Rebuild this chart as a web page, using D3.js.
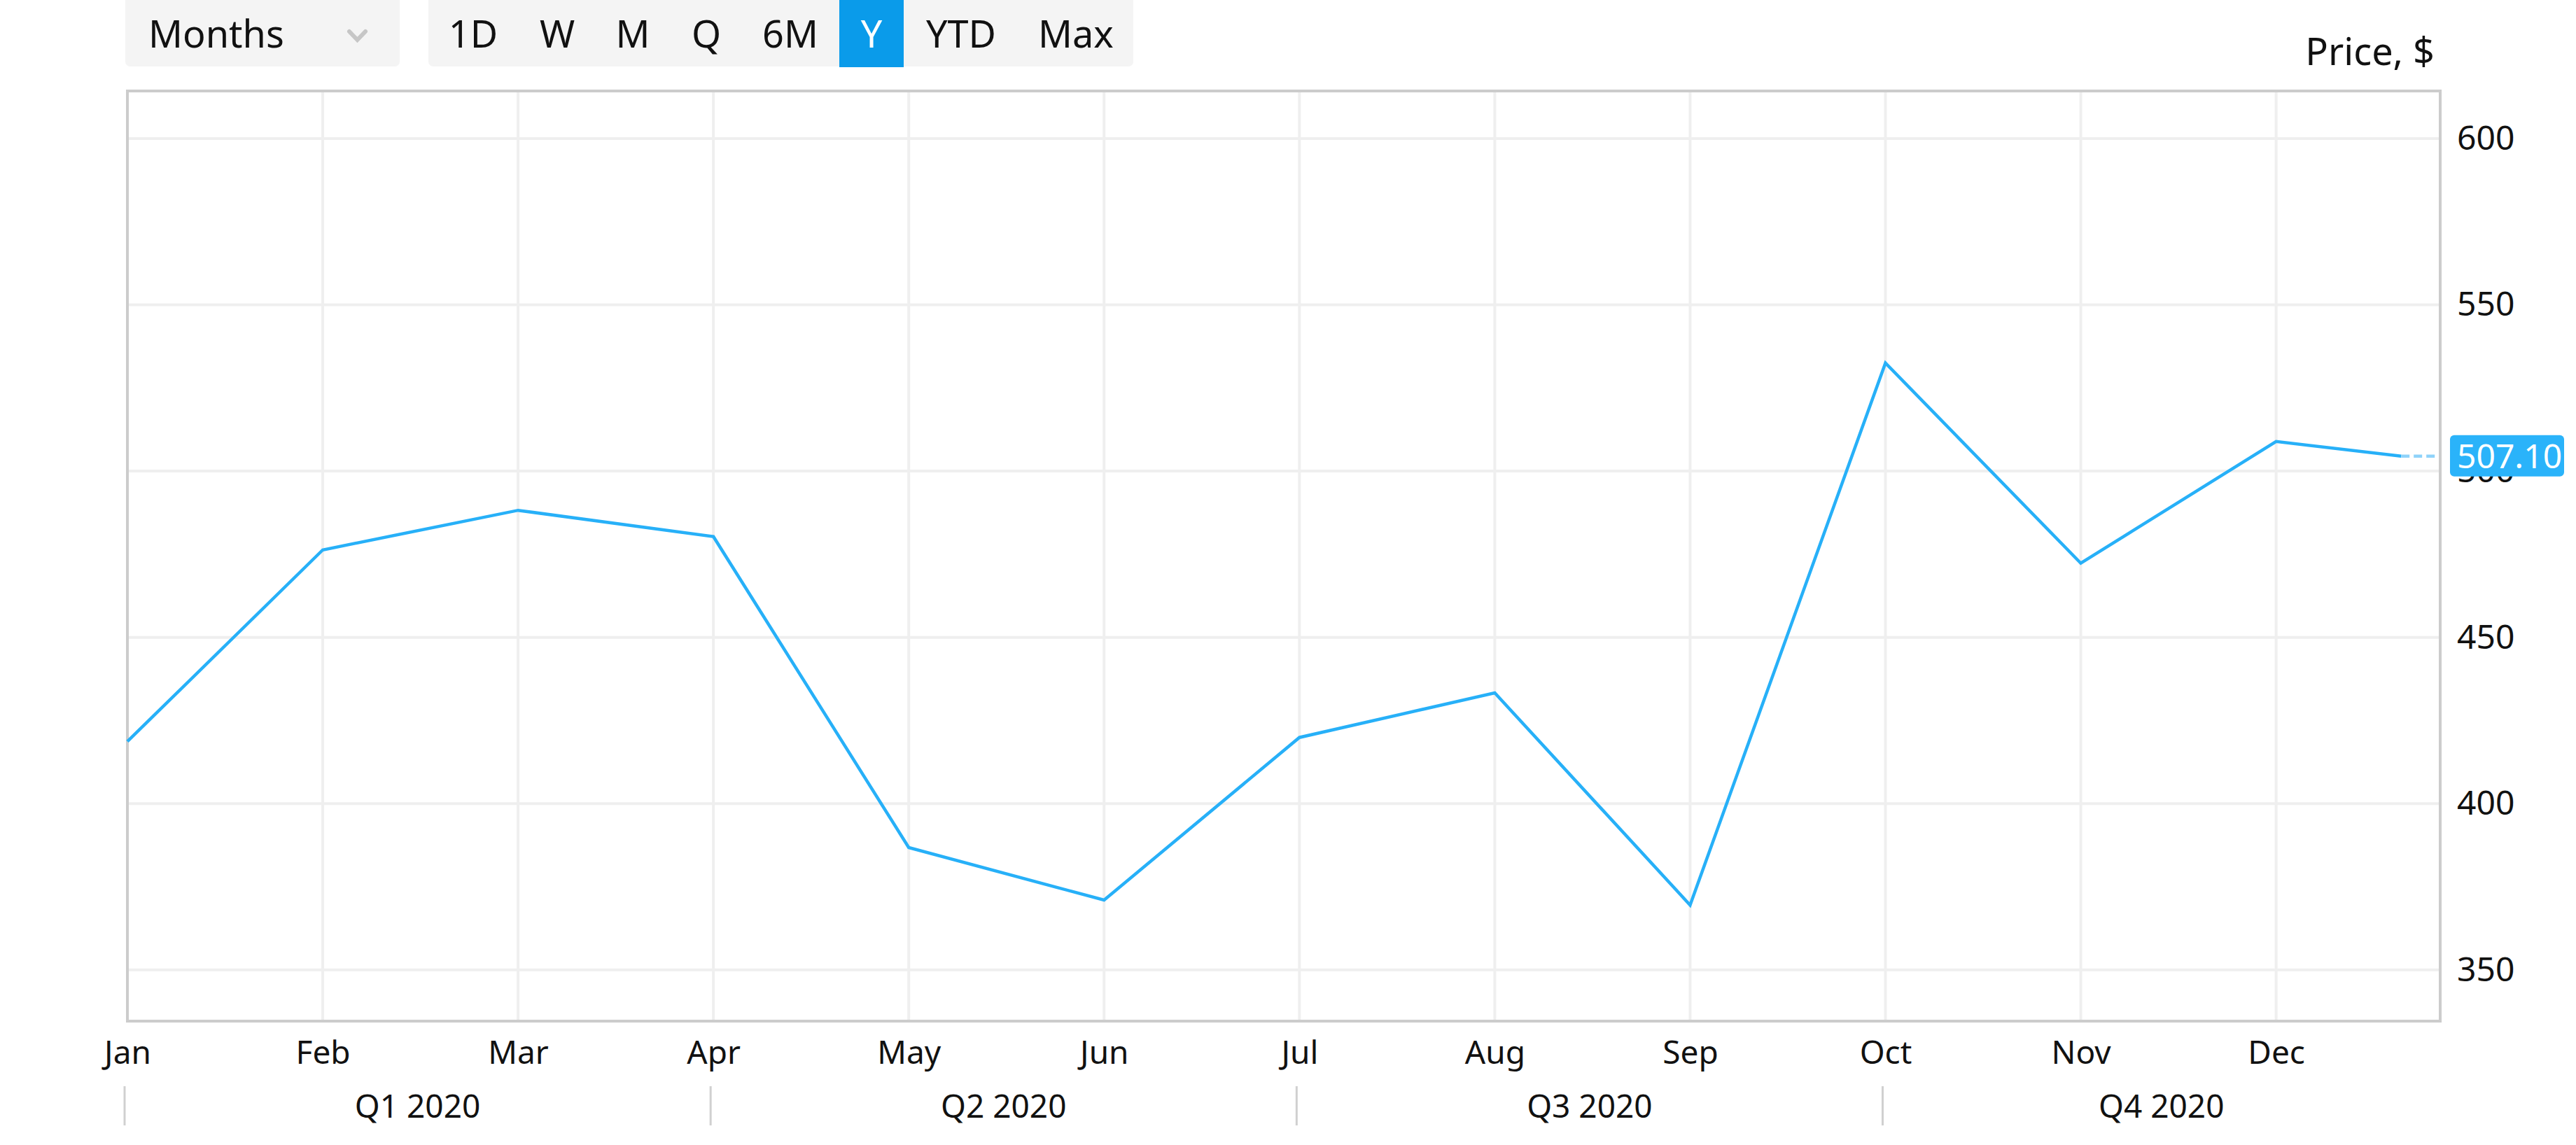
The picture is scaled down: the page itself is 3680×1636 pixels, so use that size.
<!DOCTYPE html>
<html>
<head>
<meta charset="utf-8">
<script src="https://cdn.jsdelivr.net/npm/d3@7"></script>
<style>
  html, body { margin: 0; padding: 0; background: #ffffff; }
  svg { display: block; font-family: "Noto Sans", "Open Sans", sans-serif; }
</style>
</head>
<body>
<svg id="chart" width="3680" height="1636"></svg>
<script>
// ---- data ----
const months = ["Jan","Feb","Mar","Apr","May","Jun","Jul","Aug","Sep","Oct","Nov","Dec"];
const prices = [418.7, 476.3, 488.2, 480.3, 386.8, 371.0, 419.9, 433.3, 369.5, 532.5, 472.3, 508.9];
const lastIndex = 11.64;          // latest point (mid-December)
const lastPrice = 504.5;
const lastPriceLabel = "507.10";
const yTicks = [350, 400, 450, 500, 550, 600];
const quarters = ["Q1 2020", "Q2 2020", "Q3 2020", "Q4 2020"];
const quarterStarts = [0, 3, 6, 9];
const periodButtons = ["1D","W","M","Q","6M","Y","YTD","Max"];
const periodCenters = [676, 796, 904, 1009, 1129, 1245, 1373, 1537];
const activePeriod = "Y";
const granularity = "Months";
const axisTitle = "Price, $";

// ---- layout ----
const L = 182, R = 3486, T = 130, B = 1459;
const x = d3.scaleLinear().domain([0, 11.84]).range([L, R]);
const y = d3.scaleLinear().domain([334.6, 614.3]).range([B, T]);

const svg = d3.select("#chart");
svg.append("rect").attr("width", 3680).attr("height", 1636).attr("fill", "#ffffff");

// ---- top controls ----
const ctl = svg.append("g");
ctl.append("rect").attr("x", 179).attr("y", -12).attr("width", 392).attr("height", 107)
  .attr("rx", 7).attr("fill", "#f4f4f4");
ctl.append("text").attr("x", 212).attr("y", 68).attr("font-size", 54).attr("fill", "#111")
  .text(granularity);
ctl.append("path").attr("d", "M499,45 L510.5,57 L522,45").attr("fill", "none")
  .attr("stroke", "#c6c6c6").attr("stroke-width", 6).attr("stroke-linecap", "round");

ctl.append("rect").attr("x", 612).attr("y", -12).attr("width", 1007).attr("height", 107)
  .attr("rx", 7).attr("fill", "#f4f4f4");
ctl.append("rect").attr("x", 1199).attr("y", 0).attr("width", 92).attr("height", 96)
  .attr("fill", "#0a9bea");
ctl.selectAll("text.btn").data(periodButtons).join("text")
  .attr("class", "btn")
  .attr("x", (d, i) => periodCenters[i]).attr("y", 68)
  .attr("text-anchor", "middle").attr("font-size", 54)
  .attr("fill", d => d === activePeriod ? "#ffffff" : "#111")
  .text(d => d);

// ---- axis title ----
svg.append("text").attr("x", 3478).attr("y", 93).attr("text-anchor", "end")
  .attr("font-size", 54).attr("fill", "#111").text(axisTitle);

// ---- gridlines ----
const grid = svg.append("g");
grid.selectAll("line.h").data(yTicks).join("line")
  .attr("x1", L).attr("x2", R).attr("y1", d => y(d)).attr("y2", d => y(d))
  .attr("stroke", "#efefef").attr("stroke-width", 4);
grid.selectAll("line.v").data(d3.range(1, 12)).join("line")
  .attr("x1", d => x(d)).attr("x2", d => x(d)).attr("y1", T).attr("y2", B)
  .attr("stroke", "#efefef").attr("stroke-width", 4);

// ---- frame ----
svg.append("rect").attr("x", L).attr("y", T).attr("width", R - L).attr("height", B - T)
  .attr("fill", "none").attr("stroke", "#cccccc").attr("stroke-width", 4);

// ---- line ----
const pts = prices.map((v, i) => [i, v]).concat([[lastIndex, lastPrice]]);
const line = d3.line().x(d => x(d[0])).y(d => y(d[1]));
svg.append("path").datum(pts).attr("d", line).attr("fill", "none")
  .attr("stroke", "#27b0f8").attr("stroke-width", 4.5).attr("stroke-linejoin", "miter");
svg.append("line").attr("x1", x(lastIndex)).attr("x2", R - 2)
  .attr("y1", y(lastPrice)).attr("y2", y(lastPrice))
  .attr("stroke", "#8fd3fa").attr("stroke-width", 4.5).attr("stroke-dasharray", "12,6");

// ---- right axis ----
const yAxis = d3.axisRight(y).tickValues(yTicks).tickSize(0).tickPadding(24);
const yg = svg.append("g").attr("transform", `translate(${R},0)`).call(yAxis);
yg.select(".domain").remove();
yg.selectAll("text").attr("font-size", 48).attr("fill", "#111")
  .attr("font-family", "Noto Sans, Open Sans, sans-serif");

// ---- last price label ----
const ly = y(lastPrice);
svg.append("rect").attr("x", 3500).attr("y", ly - 30).attr("width", 163).attr("height", 59)
  .attr("rx", 6).attr("fill", "#2ab3fa");
svg.append("text").attr("x", 3510).attr("y", ly).attr("dy", "0.35em")
  .attr("font-size", 48).attr("fill", "#ffffff").text(lastPriceLabel);

// ---- bottom month axis ----
const xAxis = d3.axisBottom(x).tickValues(d3.range(0, 12)).tickFormat(i => months[i])
  .tickSize(0).tickPadding(0);
const xg = svg.append("g").call(xAxis);
xg.select(".domain").remove();
xg.selectAll("text").attr("y", 1520).attr("dy", null).attr("font-size", 46)
  .attr("fill", "#111").attr("font-family", "Noto Sans, Open Sans, sans-serif");

// ---- quarters ----
const qg = svg.append("g");
qg.selectAll("line").data(quarterStarts).join("line")
  .attr("x1", d => x(d) - 4).attr("x2", d => x(d) - 4).attr("y1", 1552).attr("y2", 1608)
  .attr("stroke", "#d0d0d0").attr("stroke-width", 3);
qg.selectAll("text").data(quarters).join("text")
  .attr("x", (d, i) => {
    const a = x(quarterStarts[i]) - 4;
    const b = i < 3 ? x(quarterStarts[i + 1]) - 4 : R;
    return (a + b) / 2;
  })
  .attr("y", 1597).attr("text-anchor", "middle").attr("font-size", 46).attr("fill", "#111")
  .text(d => d);
</script>
</body>
</html>
